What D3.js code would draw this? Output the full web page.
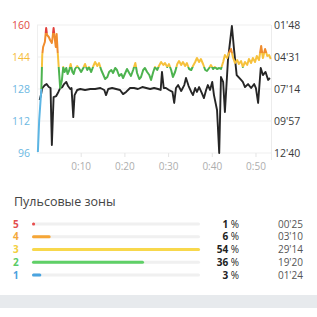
<!DOCTYPE html>
<html>
<head>
<meta charset="utf-8">
<script src="https://cdn.jsdelivr.net/npm/d3@7"></script>
<style>
  body { margin: 0; background: #fff; }
  svg { display: block; font-family: "Open Sans", sans-serif; }
</style>
</head>
<body>
<div id="chart"></div>
<script>
// heart rate: [minutes, bpm]
var heartRate = [
  [0.2, 96.5], [0.5, 112.5], [1.0, 128], [1.2, 145], [1.4, 149], [1.8, 151.5], [2.1, 158.5],
  [2.3, 155], [2.7, 154], [3.0, 152.5], [3.4, 151], [3.6, 154.5], [3.8, 158.5], [4.1, 152.5],
  [4.3, 149], [4.5, 155.5], [4.7, 147.5], [5.1, 135], [5.3, 128.5], [5.7, 132.5], [6.0, 139],
  [6.3, 136.5], [6.7, 138.5], [7.0, 135.5], [7.4, 137.5], [7.7, 140.5], [8.1, 136.5], [8.4, 135.5],
  [8.7, 138], [9.2, 139.5], [9.7, 138], [10.1, 136.5], [10.6, 138.5], [11.0, 140.5], [11.5, 137.5],
  [11.9, 139], [12.4, 136.5], [12.9, 139.5], [13.3, 141.5], [13.8, 139.5], [14.2, 141], [14.7, 137.5],
  [15.1, 135.5], [15.6, 133], [16.1, 134], [16.5, 136.5], [17.0, 137.5], [17.4, 136], [17.9, 138.5],
  [18.3, 137.5], [18.8, 134.5], [19.3, 135.5], [19.7, 133.5], [20.2, 136], [20.6, 138], [21.1, 136],
  [21.5, 134.5], [22.0, 137.5], [22.5, 141], [22.9, 136], [23.4, 133], [23.8, 134], [24.3, 137.5],
  [24.7, 138.5], [25.2, 136.5], [25.7, 135], [26.1, 132.5], [26.6, 136.5], [27.0, 139], [27.5, 137.5],
  [27.9, 139.5], [28.4, 141.5], [28.9, 140], [29.3, 141], [29.8, 139], [30.2, 140.5], [30.7, 137.5],
  [31.1, 134], [31.6, 136.5], [32.1, 140.5], [32.5, 142], [33.0, 140], [33.4, 141.5], [33.9, 139.5],
  [34.3, 141], [34.8, 138], [35.3, 137.5], [35.7, 139.5], [36.2, 141.5], [36.6, 143.5], [37.1, 141.5],
  [37.5, 143], [38.0, 140.5], [38.5, 137.5], [38.9, 137], [39.4, 138.5], [39.8, 140], [40.3, 138],
  [40.7, 139], [41.2, 138], [41.7, 138.5], [42.1, 138], [42.6, 141.5], [43.0, 145], [43.5, 143.5],
  [43.9, 146], [44.4, 148], [44.9, 143.5], [45.3, 141], [45.8, 142.5], [46.2, 140.5], [46.7, 142],
  [47.1, 139], [47.6, 141.5], [48.1, 140], [48.5, 143], [49.0, 141], [49.4, 143.5], [49.9, 141.5],
  [50.3, 144.5], [50.8, 142.5], [51.3, 149.5], [51.7, 143.5], [52.2, 148], [52.7, 144.5], [53.1, 145],
  [53.5, 143]
];

// pace: [minutes, seconds per km]
var pace = [
  [0.6, 490], [0.9, 465], [1.2, 429], [1.8, 414], [2.2, 409], [2.7, 424], [3.1, 429], [3.4, 719],
  [3.8, 475], [4.4, 470], [4.9, 449], [5.3, 429], [5.8, 424], [6.2, 409], [6.7, 398], [7.1, 419],
  [7.6, 434], [7.9, 429], [8.3, 577], [8.6, 465], [9.2, 439], [9.9, 434], [11.0, 439], [12.2, 434],
  [13.3, 434], [14.5, 429], [15.4, 439], [15.8, 465], [16.3, 434], [17.2, 429], [18.1, 434], [19.0, 439],
  [19.7, 460], [20.4, 449], [21.3, 429], [22.2, 429], [23.1, 434], [24.1, 424], [25.0, 429], [25.9, 434],
  [26.8, 429], [27.7, 434], [28.3, 439], [28.6, 347], [29.0, 429], [29.5, 429], [30.2, 439], [31.0, 449],
  [31.4, 505], [31.8, 429], [32.3, 414], [33.0, 444], [33.7, 414], [34.1, 378], [34.7, 419], [35.3, 449],
  [35.7, 465], [36.2, 429], [36.6, 449], [37.1, 424], [37.7, 454], [38.2, 480], [38.7, 439], [39.1, 414],
  [39.6, 439], [40.1, 398], [40.5, 465], [41.2, 541], [41.7, 760], [42.1, 373], [42.6, 398], [43.0, 551],
  [43.7, 286], [44.6, 113], [45.1, 235], [45.7, 363], [46.5, 383], [47.1, 398], [47.6, 424], [48.3, 409],
  [49.0, 429], [49.7, 409], [50.1, 429], [50.6, 505], [51.2, 327], [51.7, 363], [52.3, 347], [52.9, 388],
  [53.3, 378]
];

var totalMinutes = 53.55;
var hrTicks = [96, 112, 128, 144, 160];
var paceTicks = [108, 271, 434, 597, 760];
var paceTickLabels = ["01'48", "04'31", "07'14", "09'57", "12'40"];
var timeTicks = [10, 20, 30, 40, 50];
var timeTickLabels = ["0:10", "0:20", "0:30", "0:40", "0:50"];

// zone borders in bpm, and colours low -> high
var zoneBounds = [128, 139, 146, 156];
var lineColors = ["#5bb5e4", "#4db34f", "#f6c13c", "#f08c2e", "#e2403a"];
var hrTickColors = ["#6cb8e2", "#6cb8e2", "#6cb8e2", "#f5bd3a", "#df4b45"];

// zones summary (5 at top)
var zoneNames = ["5", "4", "3", "2", "1"];
var zonePercent = [1, 6, 54, 36, 3];
var zoneTime = ["00'25", "03'10", "29'14", "19'20", "01'24"];
var zoneColors = ["#e84d4d", "#f6a636", "#f8d84c", "#5fd067", "#4aa4e0"];
var zoneTextColors = ["#e24f4f", "#f4a93c", "#f3cf40", "#5ccb66", "#4aa1de"];

var svgWidth = 317;
var svgHeight = 317;

var svg = d3.select("#chart")
  .append("svg")
  .attr("width", svgWidth)
  .attr("height", svgHeight);

// scales
var xScale = d3.scaleLinear().domain([0, totalMinutes]).range([37, 271]);
var yHr = d3.scaleLinear().domain([96, 160]).range([153, 25]);
var yPace = d3.scaleLinear().domain([108, 760]).range([25, 153]);

// gridlines
svg.append("g")
  .selectAll("line")
  .data(hrTicks)
  .enter()
  .append("line")
  .attr("x1", 37)
  .attr("x2", 271)
  .attr("y1", d => yHr(d))
  .attr("y2", d => yHr(d))
  .attr("stroke", "#efefef")
  .attr("stroke-width", 1);

// side borders
svg.append("line")
  .attr("x1", 37.5).attr("x2", 37.5).attr("y1", 25).attr("y2", 153)
  .attr("stroke", "#efefef");
svg.append("line")
  .attr("x1", 271.5).attr("x2", 271.5).attr("y1", 25).attr("y2", 160)
  .attr("stroke", "#ececec");

// x axis
var bottomAxis = d3.axisBottom(xScale)
  .tickValues(timeTicks)
  .tickSize(4)
  .tickFormat((d, i) => timeTickLabels[i]);

var xAxis = svg.append("g")
  .attr("transform", "translate(0,153)")
  .call(bottomAxis);
xAxis.select(".domain").remove();
xAxis.selectAll(".tick line").attr("stroke", "#e4e4e4");
xAxis.selectAll("text")
  .attr("fill", "#adadad")
  .attr("font-size", "10px")
  .attr("font-family", "Open Sans, sans-serif")
  .attr("dy", "0.95em");

// left axis (heart rate)
var leftAxis = d3.axisLeft(yHr).tickValues(hrTicks).tickSize(0).tickPadding(4);
var yAxisL = svg.append("g")
  .attr("transform", "translate(34,0)")
  .call(leftAxis);
yAxisL.select(".domain").remove();
yAxisL.selectAll("text")
  .attr("fill", (d, i) => hrTickColors[i])
  .attr("font-size", "10.5px")
  .attr("font-family", "Open Sans, sans-serif");

// right axis (pace)
var rightAxis = d3.axisRight(yPace)
  .tickValues(paceTicks)
  .tickSize(0)
  .tickPadding(3)
  .tickFormat((d, i) => paceTickLabels[i]);
var yAxisR = svg.append("g")
  .attr("transform", "translate(271,0)")
  .call(rightAxis);
yAxisR.select(".domain").remove();
yAxisR.selectAll("text")
  .attr("fill", "#3a3a3a")
  .attr("font-size", "10.5px")
  .attr("font-family", "Open Sans, sans-serif");

// gradient for heart rate line coloured by zone
var grad = svg.append("defs")
  .append("linearGradient")
  .attr("id", "hrGrad")
  .attr("gradientUnits", "userSpaceOnUse")
  .attr("x1", 0).attr("x2", 0)
  .attr("y1", yHr(96)).attr("y2", yHr(160));

var stops = [];
var edges = [96].concat(zoneBounds).concat([160]);
for (var i = 0; i < lineColors.length; i++) {
  stops.push({ offset: (edges[i] - 96) / 64, color: lineColors[i] });
  stops.push({ offset: (edges[i + 1] - 96) / 64, color: lineColors[i] });
}
grad.selectAll("stop")
  .data(stops)
  .enter()
  .append("stop")
  .attr("offset", d => d.offset)
  .attr("stop-color", d => d.color);

var hrLine = d3.line()
  .x(d => xScale(d[0]))
  .y(d => yHr(d[1]));

var paceLine = d3.line()
  .x(d => xScale(d[0]))
  .y(d => yPace(d[1]));

svg.append("path")
  .datum(pace)
  .attr("d", paceLine)
  .attr("fill", "none")
  .attr("stroke", "#262626")
  .attr("stroke-width", 1.9)
  .attr("stroke-linejoin", "round");

svg.append("path")
  .datum(heartRate)
  .attr("d", hrLine)
  .attr("fill", "none")
  .attr("stroke", "url(#hrGrad)")
  .attr("stroke-width", 2)
  .attr("stroke-linejoin", "round");

// ===== zones block =====
svg.append("text")
  .attr("x", 14)
  .attr("y", 206)
  .attr("fill", "#444")
  .attr("font-size", "12.5px")
  .text("Пульсовые зоны");

var rowY = d3.scalePoint().domain(zoneNames).range([224, 275]);
var barX = d3.scaleLinear().domain([0, d3.max(zonePercent)]).range([0, 168]);

var rows = svg.append("g")
  .selectAll("g")
  .data(zoneNames)
  .enter()
  .append("g")
  .attr("transform", d => `translate(0,${rowY(d)})`);

rows.append("text")
  .attr("x", 13)
  .attr("y", 0)
  .attr("dy", "0.35em")
  .attr("font-size", "10px")
  .attr("font-weight", "bold")
  .attr("fill", (d, i) => zoneTextColors[i])
  .text(d => d);

rows.append("rect")
  .attr("x", 32)
  .attr("y", -1.5)
  .attr("width", 168)
  .attr("height", 3)
  .attr("rx", 1.5)
  .attr("fill", "#f0f0f0");

rows.append("rect")
  .attr("x", 32)
  .attr("y", -1.5)
  .attr("width", (d, i) => Math.max(barX(zonePercent[i]), 2.5))
  .attr("height", 3)
  .attr("rx", 1.5)
  .attr("fill", (d, i) => zoneColors[i]);

var pctText = rows.append("text")
  .attr("x", 239)
  .attr("y", 0)
  .attr("dy", "0.35em")
  .attr("text-anchor", "end")
  .attr("font-size", "10px")
  .attr("fill", "#222");
pctText.append("tspan")
  .attr("font-weight", "bold")
  .text((d, i) => zonePercent[i]);
pctText.append("tspan")
  .text(" %");

rows.append("text")
  .attr("x", 303)
  .attr("y", 0)
  .attr("dy", "0.35em")
  .attr("text-anchor", "end")
  .attr("font-size", "10px")
  .attr("fill", "#555")
  .text((d, i) => zoneTime[i]);

// bottom band
svg.append("rect")
  .attr("x", 0)
  .attr("y", 295)
  .attr("width", svgWidth)
  .attr("height", 13)
  .attr("fill", "#e7eaed");
</script>
</body>
</html>
